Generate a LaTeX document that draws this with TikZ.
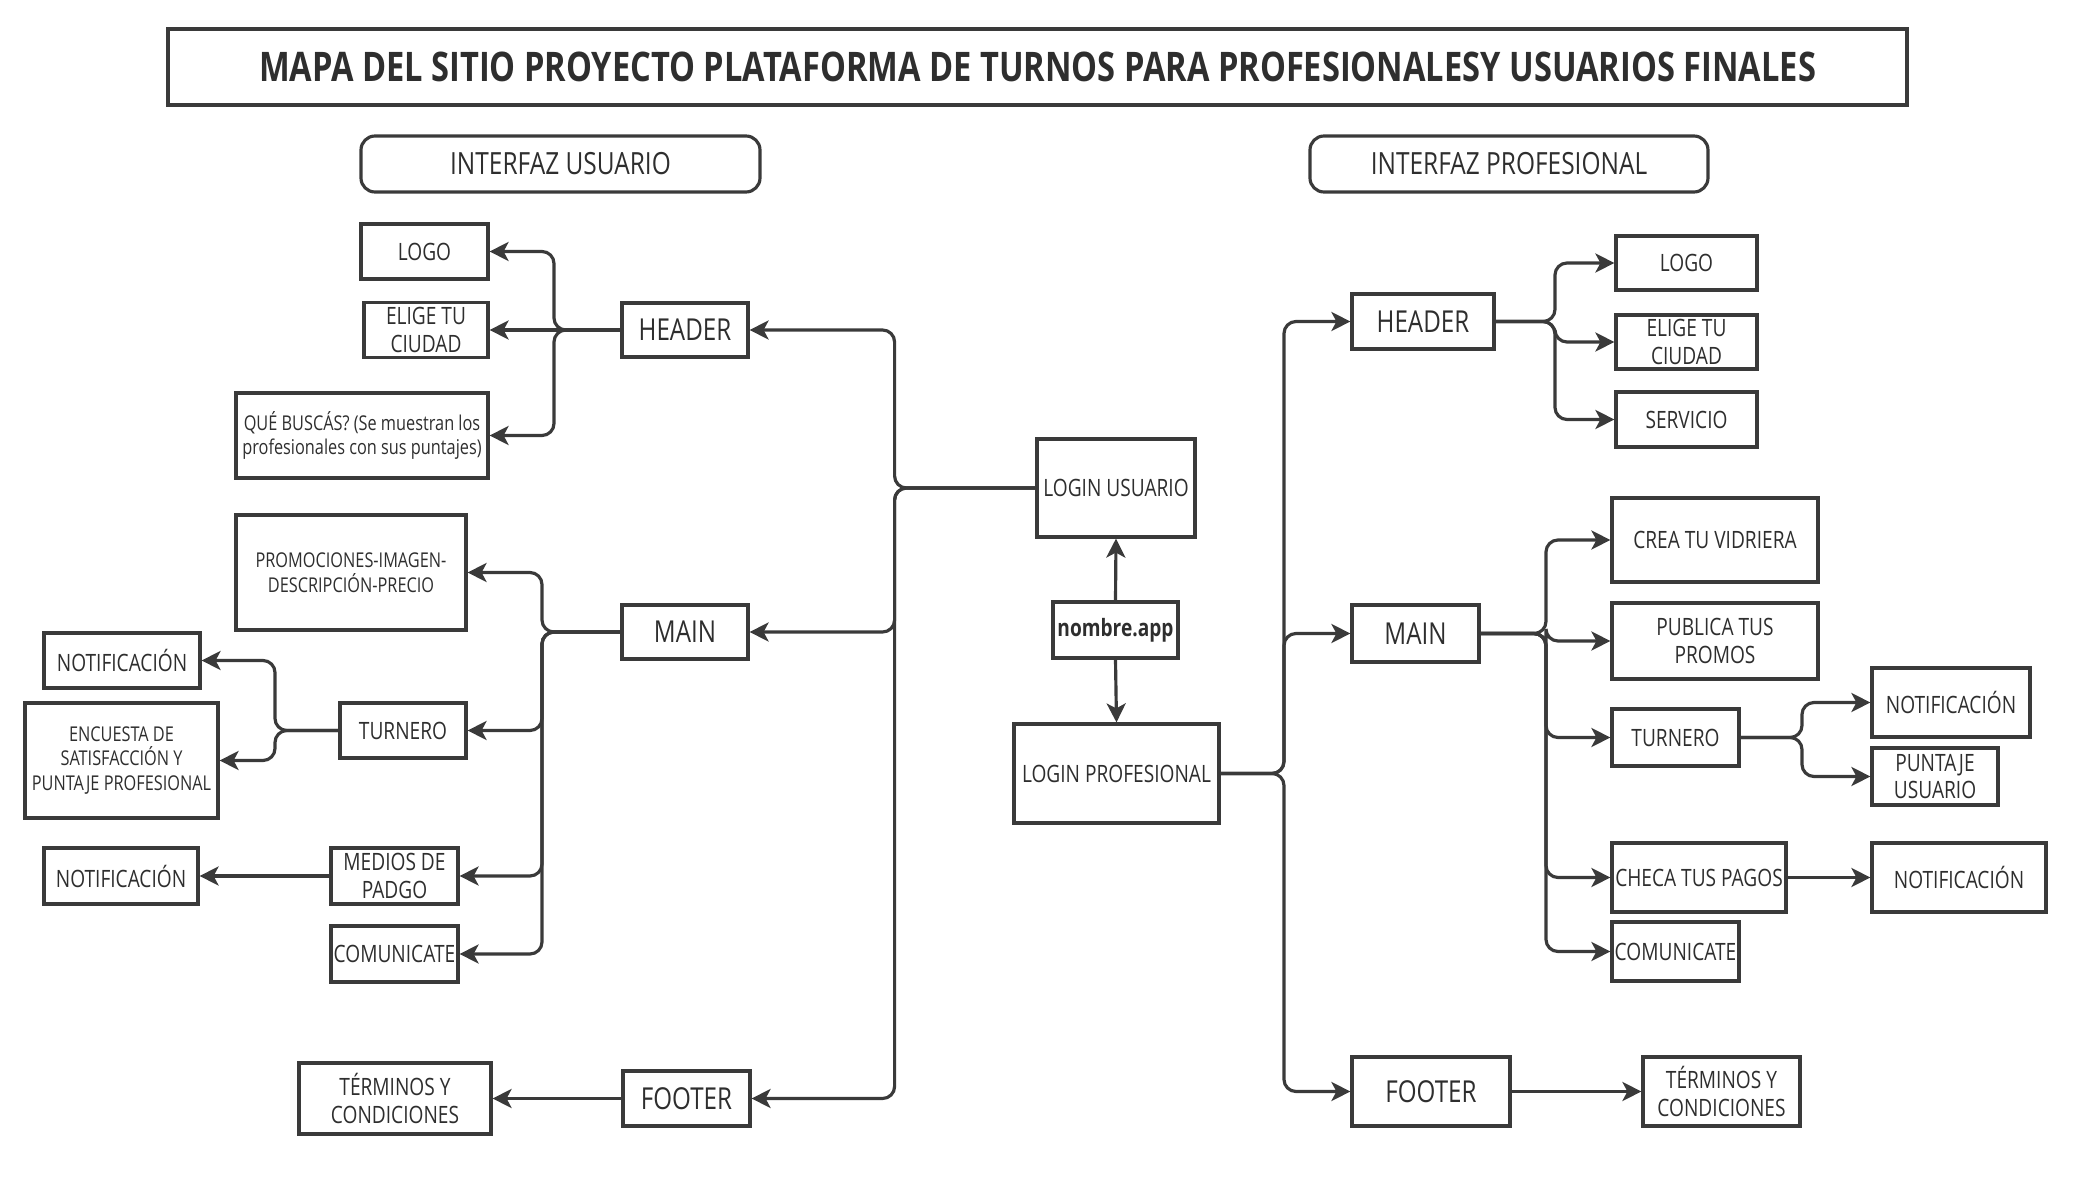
\documentclass[tikz,border=0pt]{standalone}
\usepackage{fontspec}
\setmainfont{Open Sans}[FakeStretch=0.8]
\usetikzlibrary{arrows.meta}
\definecolor{linea}{HTML}{3A3A3A}
\definecolor{texto}{HTML}{2E2E2E}
\tikzset{
  caja/.style={draw=linea,line width=0.9pt,text=texto,align=center,inner sep=0.5pt},
  cajar/.style={caja,rounded corners=1.4mm},
  flecha/.style={-{Stealth[length=1.9mm,width=1.9mm,inset=0.5mm]},linea,line width=0.9pt,rounded corners=1.2mm},
  gr/.style={font=\fontsize{8.6}{10}\selectfont},
  md/.style={font=\fontsize{6.8}{7.8}\selectfont},
  pq/.style={font=\fontsize{5.8}{7}\selectfont},
}
\begin{document}
\begin{tikzpicture}[x=0.1mm,y=-0.1mm]
  \useasboundingbox (0,0) rectangle (2075,1177);
  \node[caja,minimum width=173.9mm,minimum height=7.6mm,font=\bfseries\fontsize{11.6}{13}\selectfont] (titulo) at (1037.5,67) {MAPA DEL SITIO PROYECTO PLATAFORMA DE TURNOS PARA PROFESIONALESY USUARIOS FINALES};
  \node[cajar,minimum width=39.9mm,minimum height=5.6mm,font=\fontsize{8.7}{9.5}\selectfont] (iu) at (560.5,164) {INTERFAZ USUARIO};
  \node[cajar,minimum width=39.8mm,minimum height=5.6mm,font=\fontsize{8.7}{9.5}\selectfont] (ip) at (1509,164) {INTERFAZ PROFESIONAL};
  % centro
  \node[caja,md,minimum width=15.8mm,minimum height=9.8mm] (lu) at (1116,488) {LOGIN USUARIO};
  \node[caja,minimum width=12.5mm,minimum height=5.6mm,font=\bfseries\fontsize{6.8}{7.8}\selectfont] (app) at (1115.5,630) {nombre.app};
  \node[caja,md,minimum width=20.5mm,minimum height=9.9mm] (lp) at (1116.5,773.5) {LOGIN PROFESIONAL};
  % interfaz usuario
  \node[caja,gr,minimum width=12.6mm,minimum height=5.4mm] (hu) at (685,330) {HEADER};
  \node[caja,md,minimum width=12.7mm,minimum height=5.5mm] (lgu) at (424.5,251.5) {LOGO};
  \node[caja,md,minimum width=12.4mm,minimum height=5.5mm] (ecu) at (426,330) {ELIGE TU\\CIUDAD};
  \node[caja,pq,minimum width=25.2mm,minimum height=8.5mm] (qb) at (362,435.5) {QUÉ BUSCÁS? (Se muestran los\\profesionales con sus puntajes)};
  \node[caja,gr,minimum width=12.6mm,minimum height=5.4mm] (mu) at (685,632) {MAIN};
  \node[caja,pq,minimum width=23mm,minimum height=11.5mm] (pro) at (351,572.5) {PROMOCIONES-IMAGEN-\\DESCRIPCIÓN-PRECIO};
  \node[caja,md,minimum width=12.6mm,minimum height=5.5mm] (tu) at (403,730.5) {TURNERO};
  \node[caja,md,minimum width=15.6mm,minimum height=5.5mm] (nu1) at (122,660.5) {NOTIFICACIÓN};
  \node[caja,pq,minimum width=19.3mm,minimum height=11.5mm] (enc) at (121.5,760.5) {ENCUESTA DE\\SATISFACCIÓN Y\\PUNTAJE PROFESIONAL};
  \node[caja,md,minimum width=12.7mm,minimum height=5.6mm] (mp) at (394.5,876) {MEDIOS DE\\PADGO};
  \node[caja,md,minimum width=15.4mm,minimum height=5.6mm] (nu2) at (121,876) {NOTIFICACIÓN};
  \node[caja,md,minimum width=12.7mm,minimum height=5.6mm] (cu) at (394.5,954) {COMUNICATE};
  \node[caja,gr,minimum width=12.7mm,minimum height=5.5mm] (fu) at (686.5,1098.5) {FOOTER};
  \node[caja,md,minimum width=19.2mm,minimum height=7.1mm] (tcu) at (395,1098.5) {TÉRMINOS Y\\CONDICIONES};
  % interfaz profesional
  \node[caja,gr,minimum width=14.2mm,minimum height=5.5mm] (hp) at (1423,321.5) {HEADER};
  \node[caja,md,minimum width=14.1mm,minimum height=5.4mm] (lgp) at (1686.5,263) {LOGO};
  \node[caja,md,minimum width=14.1mm,minimum height=5.4mm] (ecp) at (1686.5,342) {ELIGE TU\\CIUDAD};
  \node[caja,md,minimum width=14.1mm,minimum height=5.5mm] (sv) at (1686.5,419.5) {SERVICIO};
  \node[caja,gr,minimum width=12.7mm,minimum height=5.7mm] (mpf) at (1415.5,633.5) {MAIN};
  \node[caja,md,minimum width=20.6mm,minimum height=8.4mm] (cv) at (1715,540) {CREA TU VIDRIERA};
  \node[caja,md,minimum width=20.6mm,minimum height=7.6mm] (pp) at (1715,641) {PUBLICA TUS\\PROMOS};
  \node[caja,md,minimum width=12.7mm,minimum height=5.7mm] (tp) at (1675.5,737.5) {TURNERO};
  \node[caja,md,minimum width=15.8mm,minimum height=6.9mm] (np1) at (1951,702.5) {NOTIFICACIÓN};
  \node[caja,md,minimum width=12.6mm,minimum height=5.7mm] (pu) at (1935,776.5) {PUNTAJE\\USUARIO};
  \node[caja,md,minimum width=17.4mm,minimum height=6.9mm] (ch) at (1699,877.5) {CHECA TUS PAGOS};
  \node[caja,md,minimum width=17.4mm,minimum height=6.9mm] (np2) at (1959,877.5) {NOTIFICACIÓN};
  \node[caja,md,minimum width=12.7mm,minimum height=5.9mm] (cp) at (1675.5,951.5) {COMUNICATE};
  \node[caja,gr,minimum width=15.8mm,minimum height=6.9mm] (fp) at (1431,1091.5) {FOOTER};
  \node[caja,md,minimum width=15.7mm,minimum height=6.9mm] (tcp) at (1721.5,1091.5) {TÉRMINOS Y\\CONDICIONES};
  % buses
  \coordinate (bu) at (894.6,0);
  \coordinate (bhu) at (554,0);
  \coordinate (bmu) at (542,0);
  \coordinate (btu) at (275,0);
  \coordinate (bp) at (1284,0);
  \coordinate (bhp) at (1555,0);
  \coordinate (bmp) at (1546,0);
  \coordinate (btp) at (1802,0);
  \draw[flecha] (app.north) -- (lu.south);
  \draw[flecha] (app.south) -- (lp.north);
  \foreach \n in {hu,mu,fu}
    \draw[flecha] (lu.west) -- (lu.west -| bu) |- (\n.east);
  \foreach \n in {lgu,qb}
    \draw[flecha] (hu.west) -- (hu.west -| bhu) |- (\n.east);
  \draw[flecha] (hu.west) -- (ecu.east);
  \foreach \n in {pro,tu,mp,cu}
    \draw[flecha] (mu.west) -- (mu.west -| bmu) |- (\n.east);
  \foreach \n in {nu1,enc}
    \draw[flecha] (tu.west) -- (tu.west -| btu) |- (\n.east);
  \draw[flecha] (mp.west) -- (nu2.east);
  \draw[flecha] (fu.west) -- (tcu.east);
  \foreach \n in {hp,mpf,fp}
    \draw[flecha] (lp.east) -- (lp.east -| bp) |- (\n.west);
  \foreach \n in {lgp,ecp,sv}
    \draw[flecha] (hp.east) -- (hp.east -| bhp) |- (\n.west);
  \foreach \n in {cv,pp,tp,ch,cp}
    \draw[flecha] (mpf.east) -- (mpf.east -| bmp) |- (\n.west);
  \foreach \n in {np1,pu}
    \draw[flecha] (tp.east) -- (tp.east -| btp) |- (\n.west);
  \draw[flecha] (ch.east) -- (np2.west);
  \draw[flecha] (fp.east) -- (tcp.west);
\end{tikzpicture}
\end{document}
